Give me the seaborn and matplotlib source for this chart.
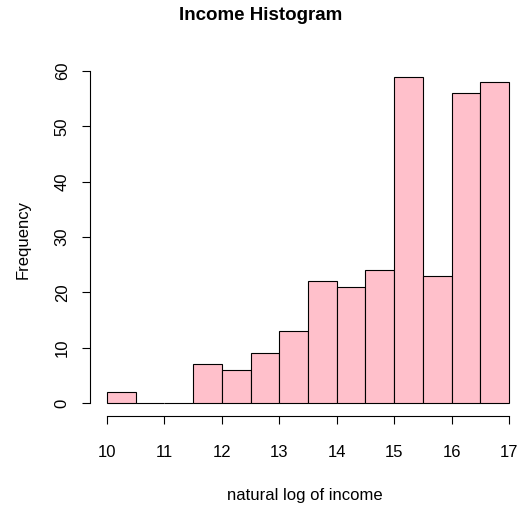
import matplotlib
matplotlib.use("Agg")
import matplotlib.pyplot as plt
import seaborn as sns
import numpy as np

# Histogram of log income: bin edges and counts per bin
bin_edges = [10.0, 10.5, 11.0, 11.5, 12.0, 12.5, 13.0, 13.5, 14.0, 14.5, 15.0, 15.5, 16.0, 16.5, 17.0]
counts = [2, 0, 0, 7, 6, 9, 13, 22, 21, 24, 59, 23, 56, 58]
x_ticks = [10, 11, 12, 13, 14, 15, 16, 17]
y_ticks = [0, 10, 20, 30, 40, 50, 60]

sns.set_style("white")
plt.rcParams["font.family"] = ["Liberation Sans", "DejaVu Sans"]
plt.rcParams["text.color"] = "black"
plt.rcParams["axes.labelcolor"] = "black"
plt.rcParams["xtick.color"] = "black"
plt.rcParams["ytick.color"] = "black"

fig = plt.figure(figsize=(5.21, 5.12), dpi=100)
W, H = 521, 512
left_px, right_px = 89.8, 520.5
top_px, bottom_px = 63.3, 416.3
ax = fig.add_axes([left_px / W, 1 - bottom_px / H, (right_px - left_px) / W, (bottom_px - top_px) / H])

bin_mids = [(a + b) / 2 for a, b in zip(bin_edges[:-1], bin_edges[1:])]
sns.histplot(x=bin_mids, weights=counts, bins=bin_edges, color="#FFC0CB",
             edgecolor="black", linewidth=0.8, alpha=1, ax=ax)

ax.set_xlim(9.7, 17.2)
ax.set_ylim(-2.4, 61.4)
ax.set_xticks(x_ticks)
ax.set_yticks(y_ticks)
ax.set_xticklabels([str(t) for t in x_ticks], fontsize=12)
ax.set_yticklabels([str(t) for t in y_ticks], fontsize=12, rotation=90, va="center")

for side in ("top", "right"):
    ax.spines[side].set_visible(False)
ax.spines["left"].set_bounds(0, 60)
ax.spines["bottom"].set_bounds(10, 17)
for side in ("left", "bottom"):
    ax.spines[side].set_linewidth(0.8)
    ax.spines[side].set_color("black")
ax.tick_params(axis="both", direction="out", length=5.5, width=0.8, color="black",
               left=True, bottom=True)
ax.tick_params(axis="x", pad=15.5)
ax.tick_params(axis="y", pad=9)

ax.set_xlabel("natural log of income", fontsize=12, labelpad=20)
ax.set_ylabel("Frequency", fontsize=12, labelpad=17.5)
fig.suptitle("Income Histogram", fontsize=13.5, fontweight="bold", y=1 - 15.5 / H, va="center")

fig.savefig("out.png", dpi=100)
